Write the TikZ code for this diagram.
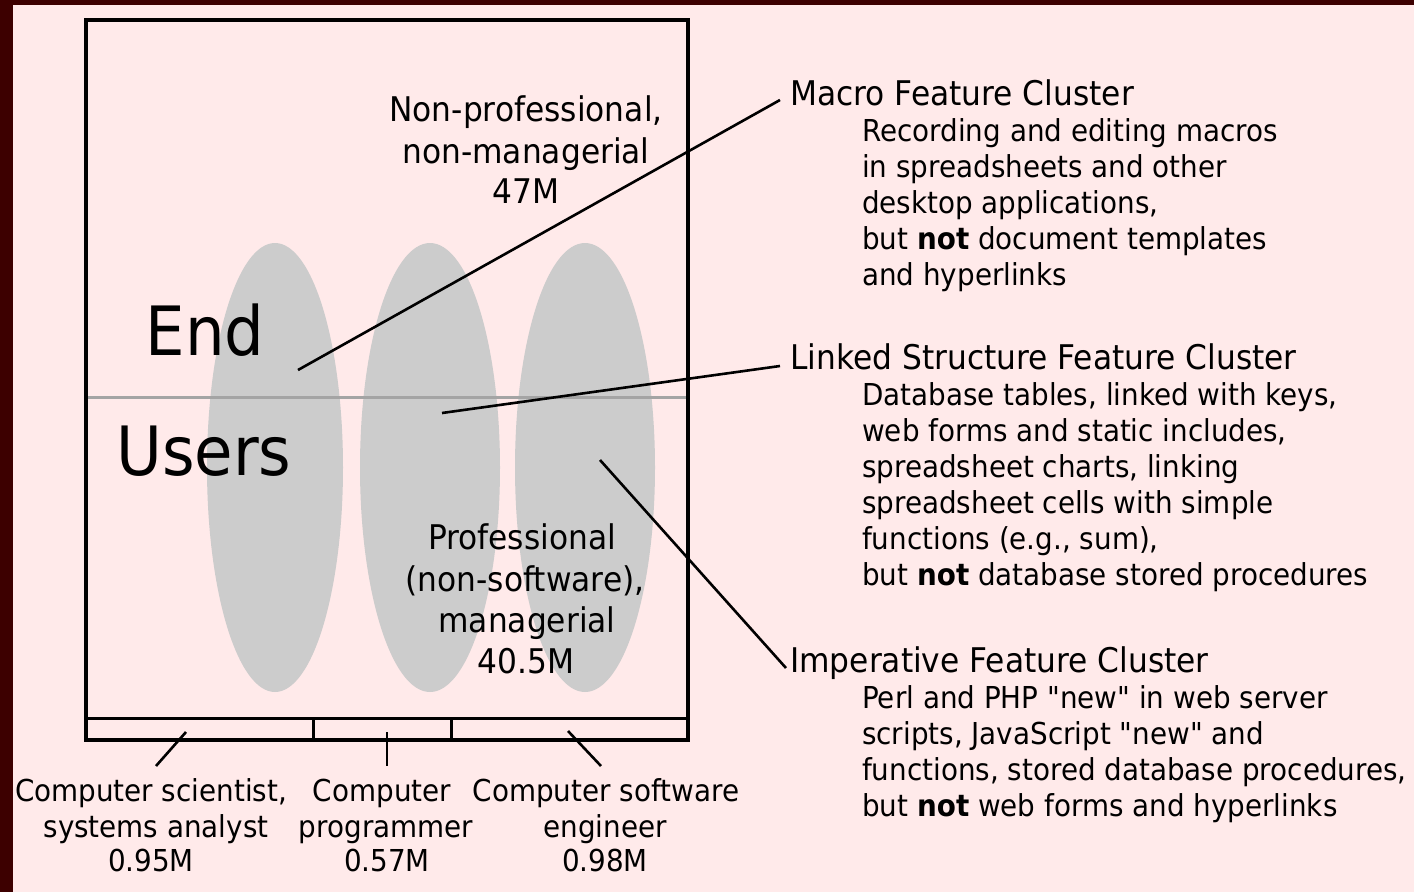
\documentclass[tikz,border=0pt]{standalone}
\usepackage{fontspec}
\setmainfont{DejaVu Sans}[FakeStretch=0.92,Ligatures=TeXOff]
\definecolor{maroon}{HTML}{3D0000}
\definecolor{bgpink}{HTML}{FFEAEA}
\definecolor{ellgray}{HTML}{CCCCCC}
\definecolor{midline}{HTML}{A4A4A4}
\begin{document}
\begin{tikzpicture}[x=1pt,y=-1pt,
  conn/.style={line width=2.6pt,black},
  hd/.style={anchor=base west,inner sep=0pt,font=\fontsize{34}{40}\selectfont},
  subtxt/.style={anchor=base west,inner sep=0pt,font=\fontsize{30.2}{36}\selectfont},
  boxtxt/.style={anchor=base,inner sep=0pt,font=\fontsize{34}{40}\selectfont},
  lbltxt/.style={anchor=base,inner sep=0pt,font=\fontsize{30.2}{36}\selectfont},
  bigtxt/.style={anchor=base,inner sep=0pt,font=\fontsize{68}{80}\selectfont},
  ell/.style={fill=ellgray}]
\fill[maroon] (0,0) rectangle (1414,892);
\fill[bgpink] (13,5) rectangle (1414,892);
\useasboundingbox (0,0) rectangle (1414,892);

% ellipses
\fill[ell] (275,467.5) ellipse [x radius=68pt,y radius=224.5pt];
\fill[ell] (430,467.5) ellipse [x radius=70pt,y radius=224.5pt];
\fill[ell] (585,467.5) ellipse [x radius=70pt,y radius=224.5pt];

% dividing line
\draw[midline,line width=3pt] (86,397) -- (688,397);

% box and strip
\draw[line width=3.8pt] (86,20) rectangle (688,740);
\draw[line width=3pt] (86,718) -- (688,718);
\draw[line width=3pt] (313,718) -- (313,740);
\draw[line width=3pt] (451,718) -- (451,740);

% texts in box
\node[bigtxt] (end) at (205,355) {End};
\node[bigtxt] (users) at (204,475) {Users};
\node[boxtxt] (np1) at (526,121) {Non-professional,};
\node[boxtxt] (np2) at (526,163) {non-managerial};
\node[boxtxt] (np3) at (526,203) {47M};
\node[boxtxt] (pr1) at (522,549) {Professional};
\node[boxtxt] (pr2) at (525,591) {(non-software),};
\node[boxtxt] (pr3) at (527,632) {managerial};
\node[boxtxt] (pr4) at (526,673) {40.5M};

% bottom labels
\node[lbltxt] (cs1) at (151,801) {Computer scientist,};
\node[lbltxt] (cs2) at (156,837) {systems analyst};
\node[lbltxt] (cs3) at (151,871) {0.95M};
\node[lbltxt] (cp1) at (382,801) {Computer};
\node[lbltxt] (cp2) at (386,837) {programmer};
\node[lbltxt] (cp3) at (387,871) {0.57M};
\node[lbltxt] (se1) at (606,801) {Computer software};
\node[lbltxt] (se2) at (605,837) {engineer};
\node[lbltxt] (se3) at (605,871) {0.98M};

% right side texts
\node[hd] (mh) at (790,105) {Macro Feature Cluster};
\node[subtxt] (m1) at (862,141) {Recording and editing macros};
\node[subtxt] (m2) at (862,177) {in spreadsheets and other};
\node[subtxt] (m3) at (862,213) {desktop applications,};
\node[subtxt] (m4) at (862,249) {but \textbf{not} document templates};
\node[subtxt] (m5) at (862,285) {and hyperlinks};

\node[hd] (lh) at (790,369) {Linked Structure Feature Cluster};
\node[subtxt] (l1) at (862,405) {Database tables, linked with keys,};
\node[subtxt] (l2) at (862,441) {web forms and static includes,};
\node[subtxt] (l3) at (862,477) {spreadsheet charts, linking};
\node[subtxt] (l4) at (862,513) {spreadsheet cells with simple};
\node[subtxt] (l5) at (862,549) {functions (e.g., sum),};
\node[subtxt] (l6) at (862,585) {but \textbf{not} database stored procedures};

\node[hd] (ih) at (790,672) {Imperative Feature Cluster};
\node[subtxt] (i1) at (862,708) {Perl and PHP "new" in web server};
\node[subtxt] (i2) at (862,744) {scripts, JavaScript "new" and};
\node[subtxt] (i3) at (862,780) {functions, stored database procedures,};
\node[subtxt] (i4) at (862,816) {but \textbf{not} web forms and hyperlinks};

% connector end points
\coordinate (macroP) at (298,370);
\coordinate (macroE) at (780,100);
\coordinate (linkP) at (442,413);
\coordinate (linkE) at (780,366);
\coordinate (impP) at (600,460);
\coordinate (impE) at (786,668);
\coordinate (csP) at (186,732);
\coordinate (csE) at (156,766);
\coordinate (cpP) at (387,732);
\coordinate (cpE) at (387,766);
\coordinate (seP) at (568,731);
\coordinate (seE) at (601,766);

\draw[conn] (macroP) -- (macroE);
\draw[conn] (linkP) -- (linkE);
\draw[conn] (impP) -- (impE);
\draw[conn] (csP) -- (csE);
\draw[conn] (cpP) -- (cpE);
\draw[conn] (seP) -- (seE);
\end{tikzpicture}
\end{document}
